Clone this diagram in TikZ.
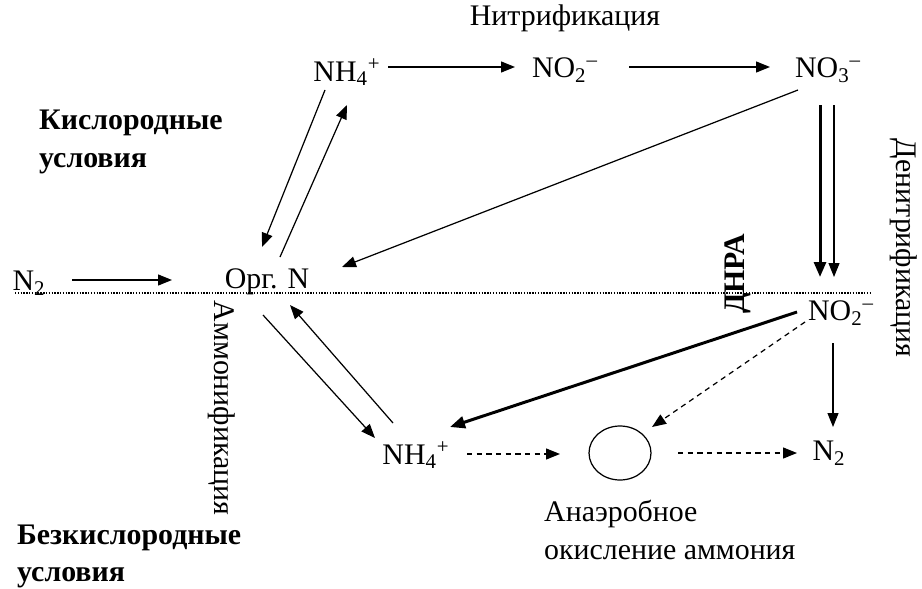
\documentclass[tikz,border=0pt]{standalone}
\usepackage{fontspec}
\setmainfont{Liberation Serif}
\usetikzlibrary{arrows.meta,calc,shapes.geometric}

\newcommand{\nhfour}{NH\textsubscript{4}\textsuperscript{+}}
\newcommand{\notwo}{NO\textsubscript{2}\textsuperscript{–}}
\newcommand{\nothree}{NO\textsubscript{3}\textsuperscript{–}}
\newcommand{\ntwo}{N\textsubscript{2}}

\begin{document}
\begin{tikzpicture}[x=0.02cm, y=-0.02cm, line join=round,
    font=\fontsize{17}{22}\selectfont,
    arr/.style={line width=0.7pt, -{Triangle[length=2.8mm, width=2.2mm]}},
    thickarr/.style={line width=1.7pt, -{Triangle[length=3mm, width=2.4mm]}},
    dasharr/.style={arr, dash pattern=on 3pt off 2.5pt}]

    \useasboundingbox (0,0) rectangle (922,588);

    % 1. вещества (узлы)
    \node (nhT)   at (347,72)  {\nhfour};
    \node (no2T)  at (565,70)  {\notwo};
    \node (no3T)  at (828,70)  {\nothree};
    \node (n2L)   at (29,283)  {\ntwo};
    \node (org)   at (267,282) {Орг. N};
    \node (no2B)  at (841,313) {\notwo};
    \node (nhB)   at (416,455) {\nhfour};
    \node[draw, ellipse, line width=0.7pt, inner sep=0pt,
          minimum width=1.24cm, minimum height=1.08cm] (anam) at (620,453) {};
    \node (n2R)   at (829,453) {\ntwo};

    % 2. граница кислородной зоны
    \draw[line width=0.9pt, dash pattern=on 0.8pt off 0.8pt] (15,293) -- (872,293);

    % 3. подписи
    \node (nitr)  at (565,18) {Нитрификация};
    \node[anchor=west, align=left, font=\fontsize{17}{21.5}\selectfont\bfseries] (oxic) at (33,142)
        {Кислородные\\условия};
    \node[anchor=west, align=left, font=\fontsize{17}{21}\selectfont\bfseries] (anoxic) at (11,556)
        {Безкислородные\\условия};
    \node[anchor=west, align=left] (anamtxt) at (538,530)
        {Анаэробное\\окисление аммония};
    \node[rotate=90, font=\fontsize{17}{22}\selectfont\bfseries] (dnra) at (738,274) {ДНРА};
    \node[rotate=-90] (denit) at (904,248) {Денитрификация};
    \node[rotate=-90] (ammon) at (222,408) {Аммонификация};

    % 4. стрелки (верхняя зона)
    \draw[arr] ($(n2L)+(43,-3)$) -- ($(org)+(-95,-2)$);
    \draw[arr] ($(nhT)+(41,-5)$) -- ($(no2T)+(-50,-3)$);
    \draw[arr] ($(no2T)+(64,-3)$) -- ($(no3T)+(-58,-3)$);
    \draw[arr] ($(nhT)+(-22,18)$) -- ($(org)+(-5,-35)$);
    \draw[arr] ($(org)+(13,-25)$) -- ($(nhT)+(0,33)$);
    \draw[arr] ($(no3T)+(-30,20)$) -- ($(org)+(75,-15)$);
    \draw[thickarr] ($(no3T)+(-8,35)$) -- ($(no2B)+(-21,-36)$);
    \draw[arr] ($(no3T)+(6,35)$) -- ($(no2B)+(-7,-36)$);

    % 5. стрелки (нижняя зона)
    \draw[arr] ($(org)+(-4,33)$) -- ($(nhB)+(-41,-17)$);
    \draw[arr] ($(nhB)+(-23,-32)$) -- ($(org)+(23,23)$);
    \draw[thickarr] ($(no2B)+(-44,-1)$) -- ($(nhB)+(34,-28)$);
    \draw[dasharr] ($(no2B)+(-36,9)$) -- ($(anam)+(32,-26)$);
    \draw[arr] ($(no2B)+(-8,30)$) -- ($(n2R)+(4,-26)$);
    \draw[dasharr] ($(nhB)+(51,-1)$) -- ($(anam)+(-60,1)$);
    \draw[dasharr] ($(anam)+(58,0)$) -- ($(n2R)+(-32,0)$);

\end{tikzpicture}
\end{document}
